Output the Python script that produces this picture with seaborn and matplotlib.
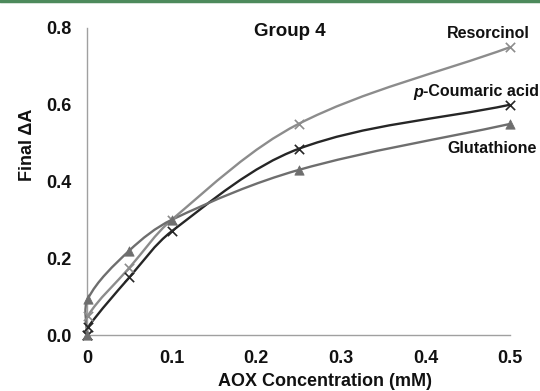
import numpy as np
import pandas as pd
import matplotlib
matplotlib.use("Agg")
import matplotlib.pyplot as plt
import seaborn as sns
from matplotlib.path import Path
from matplotlib.patches import PathPatch
from matplotlib.lines import Line2D

# ---- data ----
conc = [0.0, 0.001, 0.05, 0.1, 0.25, 0.5]
resorcinol = [0.0, 0.05, 0.175, 0.30, 0.55, 0.75]
coumaric = [0.0, 0.02, 0.15, 0.27, 0.485, 0.60]
glutathione = [0.0, 0.094, 0.22, 0.30, 0.43, 0.55]
series_names = ["Resorcinol", "p-Coumaric acid", "Glutathione"]
x_ticks = [0, 0.1, 0.2, 0.3, 0.4, 0.5]
x_tick_labels = ["0", "0.1", "0.2", "0.3", "0.4", "0.5"]
y_ticks = [0.0, 0.2, 0.4, 0.6, 0.8]
y_tick_labels = ["0.0", "0.2", "0.4", "0.6", "0.8"]

colors = {"Resorcinol": "#8c8c8c", "p-Coumaric acid": "#262626", "Glutathione": "#6e6e6e"}
markers = {"Resorcinol": "x", "p-Coumaric acid": "x", "Glutathione": "^"}

df = pd.concat([
    pd.DataFrame({"conc": conc, "val": v, "series": n})
    for n, v in zip(series_names, [resorcinol, coumaric, glutathione])
])

sns.set_style("white")
plt.rcParams["font.family"] = ["Liberation Sans", "DejaVu Sans"]
plt.rcParams["font.weight"] = "bold"

fig = plt.figure(figsize=(5.4, 3.91), dpi=100)
ax = fig.add_axes([87 / 540, 1 - 335 / 391, (510 - 87) / 540, (335 - 28) / 391])

XSPAN, YSPAN = 0.5, 0.8
XPIX, YPIX = 423.0, 307.0


def smooth_path(xs, ys):
    P = np.column_stack([xs, ys]).astype(float)
    S = np.column_stack([P[:, 0] / XSPAN * XPIX, P[:, 1] / YSPAN * YPIX])
    n = len(P)
    d = np.linalg.norm(np.diff(S, axis=0), axis=1)
    t = np.concatenate([[0], np.cumsum(d)])
    m = np.zeros_like(P)
    for i in range(n):
        a = max(i - 1, 0)
        b = min(i + 1, n - 1)
        m[i] = (P[b] - P[a]) / (t[b] - t[a])
    verts = [P[0]]
    codes = [Path.MOVETO]
    for i in range(n - 1):
        h = t[i + 1] - t[i]
        c1 = P[i] + m[i] * h / 3.0
        c2 = P[i + 1] - m[i + 1] * h / 3.0
        verts += [c1, c2, P[i + 1]]
        codes += [Path.CURVE4] * 3
    return Path(verts, codes)


for name in series_names:
    sub = df[df["series"] == name]
    patch = PathPatch(smooth_path(sub["conc"].values, sub["val"].values),
                      facecolor="none", edgecolor=colors[name], lw=1.7,
                      zorder=2, clip_on=False)
    ax.add_patch(patch)

for name in series_names:
    sub = df[df["series"] == name]
    if markers[name] == "x":
        sns.scatterplot(data=sub, x="conc", y="val", ax=ax, marker="x",
                        color=colors[name], s=45, linewidth=1.2, zorder=3,
                        clip_on=False, legend=False)
    else:
        sns.scatterplot(data=sub, x="conc", y="val", ax=ax, marker="^",
                        color=colors[name], edgecolor=colors[name], s=45,
                        zorder=3, clip_on=False, legend=False)

ax.set_xlim(0, 0.5)
ax.set_ylim(0, 0.8)
ax.set_xticks(x_ticks)
ax.set_xticklabels(x_tick_labels)
ax.set_yticks(y_ticks)
ax.set_yticklabels(y_tick_labels)
ax.tick_params(axis="both", length=0, labelsize=13, colors="#111111")
ax.tick_params(axis="y", pad=11)
ax.tick_params(axis="x", pad=11)
for lab in ax.get_xticklabels() + ax.get_yticklabels():
    lab.set_fontweight("bold")
for s in ["top", "right"]:
    ax.spines[s].set_visible(False)
for s in ["left", "bottom"]:
    ax.spines[s].set_color("#a0a0a0")
    ax.spines[s].set_linewidth(1.0)
ax.set_xlabel("")
ax.set_ylabel("")
ax.grid(False)

fig.text(325 / 540, 1 - 382 / 391, "AOX Concentration (mM)", ha="center", va="center",
         fontsize=13, fontweight="bold", color="#111111")
fig.text(27 / 540, 1 - 145 / 391, "Final \u0394A", ha="center", va="center",
         rotation=90, fontsize=13, fontweight="bold", color="#111111")
fig.text(290 / 540, 1 - 32 / 391, "Group 4", ha="center", va="center",
         fontsize=13.5, fontweight="bold", color="#111111")
fig.text(488 / 540, 1 - 33 / 391, "Resorcinol", ha="center", va="center",
         fontsize=11.5, fontweight="bold", color="#111111")
rest = fig.text(539 / 540, 1 - 92 / 391, "-Coumaric acid", ha="right", va="center",
                fontsize=11.5, fontweight="bold", color="#111111")
fig.canvas.draw()
bb = rest.get_window_extent(renderer=fig.canvas.get_renderer())
fig.text(bb.x0 / fig.bbox.width, 1 - 92 / 391, "p", ha="right", va="center",
         fontsize=11.5, fontweight="bold", fontstyle="italic", color="#111111")
fig.text(492 / 540, 1 - 148 / 391, "Glutathione", ha="center", va="center",
         fontsize=11.5, fontweight="bold", color="#111111")

fig.add_artist(Line2D([0, 1], [0.997, 0.997], transform=fig.transFigure,
                      color="#4d8a5c", lw=2.5))

fig.savefig("out.png", dpi=100)
